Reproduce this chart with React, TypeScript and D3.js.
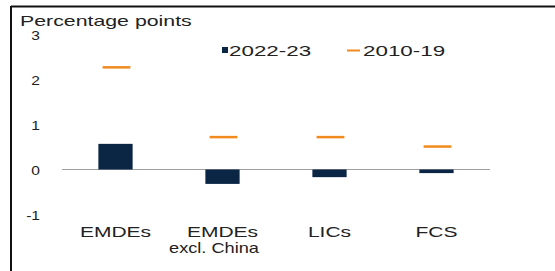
import React from "react";
import * as d3 from "d3";

const categories = ["EMDEs", "EMDEs\nexcl. China", "LICs", "FCS"];
const values2022_23 = [0.57, -0.32, -0.17, -0.08];
const values2010_19 = [2.27, 0.72, 0.72, 0.51];
const yTicks = [3, 2, 1, 0, -1];
const seriesNames = ["2022-23", "2010-19"];
const yLabel = "Percentage points";

const W = 555;
const H = 271;
const SX = 1.5;
const FONT = "'Liberation Sans', Arial, Helvetica, sans-serif";
const NAVY = "#0b2545";
const ORANGE = "#f28a1e";
const TEXT = "#222";

export default function App() {
  const x = d3.scaleBand<string>().domain(categories).range([62, 490]);
  const y = d3.scaleLinear().domain([-1, 3]).range([214.5, 34.5]);
  const bw = x.bandwidth() * 0.32;
  const dw = x.bandwidth() * 0.26;

  const stretched = (tx: number, ty: number, content: React.ReactNode, anchor: string, size: number, sx = SX) => (
    <g transform={`translate(${tx},${ty}) scale(${sx},1)`}>
      <text x={0} y={0} textAnchor={anchor} fontSize={size} fontFamily={FONT} fill={TEXT}>
        {content}
      </text>
    </g>
  );

  return (
    <svg
      width={W}
      height={H}
      style={{ position: "absolute", left: 0, top: 0, display: "block", background: "#fff" }}
    >
      {/* frame */}
      <line x1={11} x2={W} y1={6.5} y2={6.5} stroke="#111" strokeWidth={2} />
      <line x1={11} x2={11} y1={6} y2={H} stroke="#111" strokeWidth={2} />

      {/* axis title */}
      {stretched(20, 25.5, yLabel, "start", 14.5, 1.47)}

      {/* y tick labels */}
      {yTicks.map((t) => (
        <g key={t}>{stretched(40, y(t) + 5, String(t), "end", 13, 1.2)}</g>
      ))}

      {/* zero line */}
      <line x1={62} x2={490} y1={y(0)} y2={y(0)} stroke="#a0a0a0" strokeWidth={1} />

      {/* bars */}
      {categories.map((c, i) => {
        const v = values2022_23[i];
        const cx = (x(c) as number) + x.bandwidth() / 2;
        return (
          <rect
            key={c}
            x={cx - bw / 2}
            y={Math.min(y(v), y(0))}
            width={bw}
            height={Math.abs(y(v) - y(0))}
            fill={NAVY}
          />
        );
      })}

      {/* 2010-19 dashes */}
      {categories.map((c, i) => {
        const cx = (x(c) as number) + x.bandwidth() / 2 + 1;
        return (
          <line
            key={c}
            x1={cx - dw / 2}
            x2={cx + dw / 2}
            y1={y(values2010_19[i])}
            y2={y(values2010_19[i])}
            stroke={ORANGE}
            strokeWidth={2.5}
          />
        );
      })}

      {/* category labels */}
      {categories.map((c) => {
        const cx = (x(c) as number) + x.bandwidth() / 2;
        const lines = c.split("\n");
        return (
          <g key={c}>
            {lines.map((l, k) => (
              <g key={k}>
                {stretched(cx - (k === 0 ? 0 : 8.5), 237 + k * 15.5, l, "middle", 14, k === 0 ? 1.5 : 1.3)}
              </g>
            ))}
          </g>
        );
      })}

      {/* legend */}
      <rect x={222} y={47} width={6} height={6} fill={NAVY} />
      {stretched(229, 55.5, seriesNames[0], "start", 14, 1.6)}
      <line x1={347} x2={360} y1={50.5} y2={50.5} stroke={ORANGE} strokeWidth={2} />
      {stretched(363, 55.5, seriesNames[1], "start", 14, 1.6)}
    </svg>
  );
}
